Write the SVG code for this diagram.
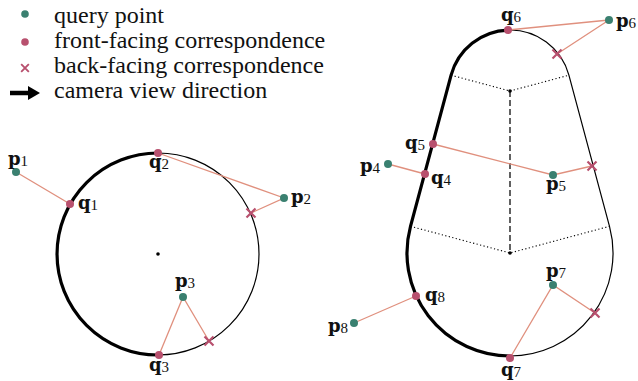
<svg xmlns="http://www.w3.org/2000/svg" width="638" height="381" viewBox="0 0 638 381">
<defs>
<style>
.leg{font-family:"Liberation Serif","Times New Roman",serif;font-size:24px;fill:#111}
.lb{font-family:"DejaVu Serif","Liberation Serif",serif;font-size:18px;font-weight:bold;fill:#111}
.sub{font-family:"Liberation Serif","Times New Roman",serif;font-size:15px;font-weight:normal}
.corr{stroke:#e0907e;stroke-width:1.3;fill:none}
.thin{stroke:#000;stroke-width:1.2;fill:none}
.thick{stroke:#000;stroke-width:3.2;fill:none}
.dot{stroke:#000;stroke-width:1.1;stroke-dasharray:1.2 2.4;fill:none}
.dash{stroke:#3a3a3a;stroke-width:1.6;stroke-dasharray:6 3;fill:none}
.qp{fill:#3a8070}
.fp{fill:#b8506e}
.bp{stroke:#b8506e;stroke-width:2.2;fill:none}
</style>
<path id="xm" d="M-4.5,-4.5 L4.5,4.5 M-4.5,4.5 L4.5,-4.5"/>
</defs>

<g id="legend">
<circle class="qp" cx="25" cy="14" r="3.8"/>
<text class="leg" x="54" y="23">query point</text>
<circle class="fp" cx="25" cy="42" r="3.8"/>
<text class="leg" x="54" y="48">front-facing correspondence</text>
<use href="#xm" class="bp" x="25" y="68" transform="translate(25,68) scale(0.85) translate(-25,-68)"/>
<text class="leg" x="54" y="73">back-facing correspondence</text>
<path d="M10,93 L30,93" stroke="#000" stroke-width="4.5"/>
<path d="M28,86 L40,93 L28,100 Z" fill="#000"/>
<text class="leg" x="54" y="98">camera view direction</text>
</g>

<g id="circle-shape">
<circle class="thin" cx="158" cy="254" r="101"/>
<path class="thick" d="M158,153 A101,101 0 0 0 158,355"/>
<circle cx="158" cy="254" r="1.8" fill="#000"/>
</g>

<g id="pear-shape">
<path class="thin" d="M508,30.03 A61,61 0 0 1 568.9,75.2 L609.5,226.3 A103,103 0 0 1 510,356"/>
<path class="thick" d="M508,30.03 A61,61 0 0 0 451.1,75.2 L410.5,226.3 A103,103 0 0 0 510,356"/>
<path class="dot" d="M451.1,75.2 L510,91 L568.9,75.2"/>
<path class="dot" d="M410.5,226.3 L510,253 L609.5,226.3"/>
<path class="dash" d="M510,91 L510,253"/>
<circle cx="510" cy="91" r="1.8" fill="#000"/>
<circle cx="510" cy="253" r="1.8" fill="#000"/>
</g>

<g id="connectors">
<path class="corr" d="M16,172 L70,204"/>
<path class="corr" d="M158,153 L284,198 L251,213"/>
<path class="corr" d="M159,355 L183,297 L209,341"/>
<path class="corr" d="M388,164 L425,174"/>
<path class="corr" d="M433,144 L553,175 L592,166"/>
<path class="corr" d="M508,30 L609,20 L557,54"/>
<path class="corr" d="M510,358 L553,285 L595,313"/>
<path class="corr" d="M354,323 L416,296"/>
</g>

<g id="p1"><circle class="qp" cx="16" cy="172" r="4"/><text class="lb" x="8" y="165">p<tspan class="sub" dy="1">1</tspan></text></g>
<g id="q1"><circle class="fp" cx="70" cy="204" r="4"/><text class="lb" x="78" y="209">q<tspan class="sub" dy="1">1</tspan></text></g>
<g id="q2"><circle class="fp" cx="158" cy="153" r="4"/><text class="lb" x="149" y="168">q<tspan class="sub" dy="1">2</tspan></text></g>
<g id="p2"><circle class="qp" cx="284" cy="198" r="4"/><text class="lb" x="291" y="203">p<tspan class="sub" dy="1">2</tspan></text></g>
<g id="b2"><use href="#xm" class="bp" x="251" y="213"/></g>
<g id="p3"><circle class="qp" cx="183" cy="297" r="4"/><text class="lb" x="175" y="287">p<tspan class="sub" dy="1">3</tspan></text></g>
<g id="q3"><circle class="fp" cx="159" cy="355" r="4"/><text class="lb" x="149" y="371">q<tspan class="sub" dy="1">3</tspan></text></g>
<g id="b3"><use href="#xm" class="bp" x="209" y="341"/></g>

<g id="p4"><circle class="qp" cx="388" cy="164" r="4"/><text class="lb" x="360" y="172">p<tspan class="sub" dy="1">4</tspan></text></g>
<g id="q4"><circle class="fp" cx="425" cy="174" r="4"/><text class="lb" x="431" y="184">q<tspan class="sub" dy="1">4</tspan></text></g>
<g id="q5"><circle class="fp" cx="433" cy="144" r="4"/><text class="lb" x="405" y="149">q<tspan class="sub" dy="1">5</tspan></text></g>
<g id="p5"><circle class="qp" cx="553" cy="175" r="4"/><text class="lb" x="546" y="190">p<tspan class="sub" dy="1">5</tspan></text></g>
<g id="b5"><use href="#xm" class="bp" x="592" y="166"/></g>
<g id="q6"><circle class="fp" cx="508" cy="30" r="4"/><text class="lb" x="501" y="21">q<tspan class="sub" dy="1">6</tspan></text></g>
<g id="p6"><circle class="qp" cx="609" cy="20" r="4"/><text class="lb" x="616" y="27">p<tspan class="sub" dy="1">6</tspan></text></g>
<g id="b6"><use href="#xm" class="bp" x="557" y="54"/></g>
<g id="p7"><circle class="qp" cx="553" cy="285" r="4"/><text class="lb" x="546" y="277">p<tspan class="sub" dy="1">7</tspan></text></g>
<g id="q7"><circle class="fp" cx="510" cy="358" r="4"/><text class="lb" x="501" y="376">q<tspan class="sub" dy="1">7</tspan></text></g>
<g id="b7"><use href="#xm" class="bp" x="595" y="313"/></g>
<g id="q8"><circle class="fp" cx="416" cy="296" r="4"/><text class="lb" x="425" y="301">q<tspan class="sub" dy="1">8</tspan></text></g>
<g id="p8"><circle class="qp" cx="354" cy="323" r="4"/><text class="lb" x="328" y="332">p<tspan class="sub" dy="1">8</tspan></text></g>
</svg>
